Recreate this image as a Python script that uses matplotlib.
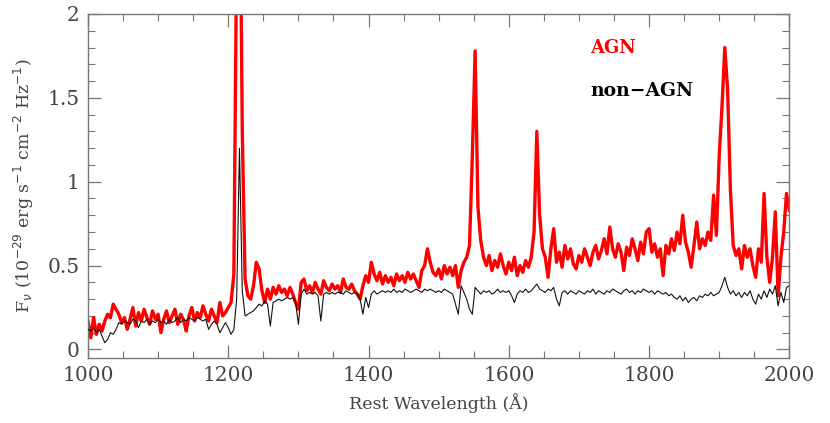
import numpy as np
import matplotlib as mpl
mpl.use("Agg")
import matplotlib.pyplot as plt
from matplotlib.ticker import MultipleLocator

mpl.rcParams["xtick.top"] = mpl.rcParams["ytick.right"] = True
mpl.rcParams["xtick.direction"] = mpl.rcParams["ytick.direction"] = "in"

# rest wavelength grid (Angstrom), 4 A sampling
wave = np.arange(1000, 2001, 4)

# composite spectrum, AGN (F_nu in 1e-29 erg/s/cm2/Hz)
flux_agn = [
    0.17, 0.07, 0.19, 0.09, 0.15, 0.11, 0.17, 0.21, 0.19, 0.27, 0.24, 0.21, 0.16, 0.19, 0.12, 0.18, 0.25, 0.14, 0.22, 0.17, 0.24, 0.19, 0.15, 0.23, 0.18,
    0.21, 0.10, 0.18, 0.23, 0.16, 0.20, 0.24, 0.15, 0.21, 0.18, 0.11, 0.20, 0.25, 0.17, 0.22, 0.19, 0.26, 0.21, 0.17, 0.24, 0.20, 0.16, 0.28, 0.20, 0.22,
    0.25, 0.28, 0.45, 2.40, 3.20, 1.30, 0.42, 0.32, 0.30, 0.38, 0.52, 0.48, 0.35, 0.28, 0.36, 0.30, 0.37, 0.33, 0.38, 0.34, 0.36, 0.32, 0.37, 0.33, 0.28,
    0.24, 0.40, 0.42, 0.35, 0.38, 0.34, 0.40, 0.36, 0.33, 0.41, 0.37, 0.35, 0.39, 0.36, 0.38, 0.34, 0.42, 0.37, 0.36, 0.39, 0.35, 0.33, 0.30, 0.38, 0.44,
    0.40, 0.52, 0.45, 0.41, 0.46, 0.39, 0.44, 0.40, 0.43, 0.38, 0.45, 0.41, 0.44, 0.40, 0.46, 0.42, 0.45, 0.41, 0.37, 0.47, 0.50, 0.60, 0.52, 0.46, 0.44,
    0.48, 0.42, 0.50, 0.45, 0.49, 0.44, 0.50, 0.37, 0.47, 0.52, 0.55, 0.62, 1.15, 1.78, 0.85, 0.65, 0.55, 0.50, 0.56, 0.47, 0.53, 0.49, 0.57, 0.50, 0.45,
    0.52, 0.47, 0.55, 0.44, 0.50, 0.46, 0.53, 0.49, 0.55, 0.70, 1.30, 0.80, 0.60, 0.55, 0.43, 0.60, 0.72, 0.52, 0.58, 0.49, 0.62, 0.54, 0.60, 0.51, 0.48,
    0.56, 0.52, 0.60, 0.55, 0.50, 0.58, 0.62, 0.54, 0.59, 0.66, 0.57, 0.73, 0.60, 0.55, 0.63, 0.58, 0.47, 0.61, 0.56, 0.66, 0.60, 0.53, 0.64, 0.57, 0.70,
    0.72, 0.58, 0.63, 0.55, 0.60, 0.44, 0.62, 0.57, 0.66, 0.59, 0.70, 0.63, 0.80, 0.64, 0.58, 0.49, 0.62, 0.76, 0.60, 0.66, 0.62, 0.70, 0.65, 0.92, 0.68,
    1.15, 1.45, 1.80, 1.55, 0.95, 0.62, 0.56, 0.60, 0.48, 0.62, 0.55, 0.60, 0.50, 0.43, 0.60, 0.52, 0.93, 0.55, 0.40, 0.55, 0.82, 0.32, 0.55, 0.70, 0.93,
    0.83,
]

# composite spectrum, non-AGN
flux_non = [
    0.12, 0.11, 0.13, 0.10, 0.12, 0.08, 0.04, 0.06, 0.10, 0.09, 0.12, 0.16, 0.15, 0.17, 0.16, 0.15, 0.18, 0.17, 0.13, 0.17, 0.16, 0.18, 0.15, 0.17, 0.16,
    0.18, 0.16, 0.17, 0.15, 0.18, 0.16, 0.17, 0.19, 0.16, 0.18, 0.17, 0.19, 0.18, 0.17, 0.19, 0.18, 0.17, 0.18, 0.12, 0.15, 0.17, 0.15, 0.10, 0.13, 0.16,
    0.13, 0.09, 0.12, 0.30, 1.20, 0.35, 0.20, 0.21, 0.22, 0.23, 0.25, 0.27, 0.26, 0.29, 0.27, 0.14, 0.28, 0.29, 0.30, 0.29, 0.30, 0.31, 0.30, 0.31, 0.28,
    0.15, 0.33, 0.36, 0.33, 0.34, 0.33, 0.34, 0.32, 0.17, 0.33, 0.34, 0.33, 0.34, 0.33, 0.34, 0.34, 0.33, 0.35, 0.34, 0.33, 0.34, 0.33, 0.30, 0.21, 0.31,
    0.25, 0.33, 0.35, 0.33, 0.34, 0.35, 0.34, 0.35, 0.34, 0.36, 0.34, 0.35, 0.34, 0.36, 0.35, 0.34, 0.35, 0.36, 0.35, 0.34, 0.36, 0.35, 0.36, 0.35, 0.34,
    0.35, 0.34, 0.36, 0.35, 0.34, 0.33, 0.27, 0.21, 0.38, 0.34, 0.30, 0.24, 0.21, 0.37, 0.35, 0.33, 0.35, 0.34, 0.35, 0.33, 0.34, 0.36, 0.34, 0.35, 0.34,
    0.35, 0.32, 0.28, 0.33, 0.35, 0.34, 0.36, 0.34, 0.35, 0.37, 0.39, 0.36, 0.35, 0.34, 0.36, 0.35, 0.37, 0.30, 0.26, 0.34, 0.35, 0.33, 0.35, 0.34, 0.33,
    0.35, 0.34, 0.33, 0.35, 0.34, 0.36, 0.33, 0.35, 0.34, 0.33, 0.35, 0.34, 0.36, 0.35, 0.34, 0.33, 0.35, 0.36, 0.34, 0.35, 0.33, 0.35, 0.34, 0.36, 0.35,
    0.34, 0.35, 0.33, 0.35, 0.34, 0.33, 0.34, 0.32, 0.33, 0.31, 0.30, 0.32, 0.29, 0.31, 0.28, 0.30, 0.31, 0.29, 0.32, 0.31, 0.33, 0.32, 0.34, 0.32, 0.33,
    0.34, 0.38, 0.43, 0.37, 0.33, 0.35, 0.32, 0.34, 0.31, 0.34, 0.32, 0.35, 0.30, 0.27, 0.33, 0.30, 0.35, 0.31, 0.36, 0.33, 0.38, 0.26, 0.34, 0.28, 0.37,
    0.38,
]


def main():
    fig = plt.figure(figsize=(8.3, 4.23), dpi=100)
    ax = fig.add_axes([0.106, 0.154, 0.845, 0.813])

    ax.plot(wave, flux_agn, color="#ff0000", lw=2.4, zorder=2)
    ax.plot(wave, flux_non, color="#111111", lw=0.8, zorder=3)

    ax.set_xlim(1000, 2000)
    ax.set_ylim(-0.05, 2)
    ax.xaxis.set_major_locator(MultipleLocator(200))
    ax.xaxis.set_minor_locator(MultipleLocator(50))
    ax.yaxis.set_major_locator(MultipleLocator(0.5))
    ax.yaxis.set_minor_locator(MultipleLocator(0.1))
    ax.yaxis.set_major_formatter(mpl.ticker.FuncFormatter(lambda v, p: f"{v:g}"))

    for s in ax.spines.values():
        s.set_color("#777777")
        s.set_linewidth(1.0)
    ax.tick_params(which="major", length=9.5, width=0.9, color="#777777",
                   labelsize=14.5, labelcolor="#444444", pad=6)
    ax.tick_params(which="minor", length=5, width=0.8, color="#777777")
    for lab in ax.get_xticklabels() + ax.get_yticklabels():
        lab.set_family("DejaVu Serif")

    ax.set_xlabel("Rest Wavelength (Å)", family="DejaVu Serif", fontsize=12.5,
                  color="#444444", labelpad=6)
    ax.set_ylabel(r"F$_\nu$ (10$^{-29}$ erg s$^{-1}$ cm$^{-2}$ Hz$^{-1}$)",
                  family="DejaVu Serif", fontsize=12.5, color="#444444", labelpad=8)

    ax.text(1716, 1.80, "AGN", color="#ff0000", fontsize=13, fontweight="bold",
            family="DejaVu Serif", va="center", ha="left")
    ax.text(1716, 1.54, "non\u2212AGN", color="black", fontsize=13.5, fontweight="bold",
            family="DejaVu Serif", va="center", ha="left")

    fig.savefig("out.png", dpi=100)


if __name__ == "__main__":
    main()
